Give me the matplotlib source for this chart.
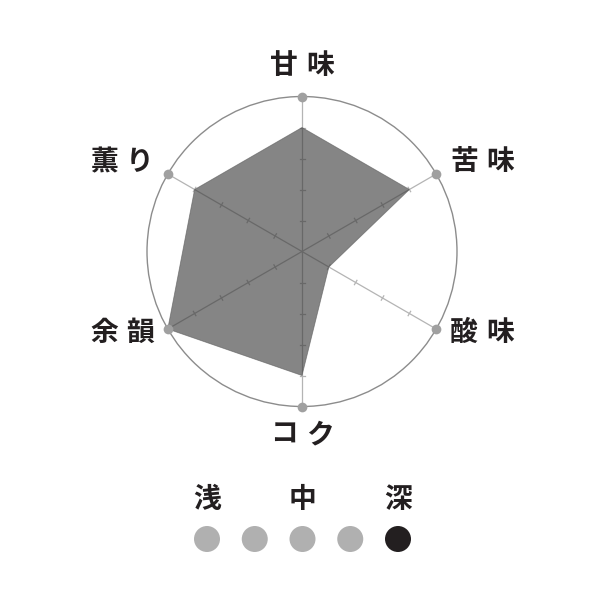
import numpy as np
import matplotlib.pyplot as plt
from matplotlib.patches import Circle, Polygon

plt.rcParams['font.family'] = ['Noto Sans CJK JP', 'DejaVu Sans']

# データ
labels = ['甘味', '苦味', '酸味', 'コク', '余韻', '薫り']
values = [4, 4, 1, 4, 5, 4]
max_value = 5
roast_labels = ['浅', '中', '深']
roast_level = 5  # 5段階中

# レイアウト（ピクセル座標）
cx, cy, R = 302, 251.5, 155
# ラベル位置（中心からのずれ）
label_dx = [0, 180, 180, 0, -180, -180]
label_dy = [-186, -89, 81.5, 183.5, 81.5, -89]

fig = plt.figure(figsize=(6.01, 6.01), dpi=100)
ax = fig.add_axes([0, 0, 1, 1])
ax.set_xlim(0, 601)
ax.set_ylim(601, 0)
ax.set_aspect('equal')
ax.axis('off')

n = len(labels)
angles = np.pi / 2 - np.arange(n) * 2 * np.pi / n
ux, uy = np.cos(angles), -np.sin(angles)

# 外円
ax.add_patch(Circle((cx, cy), R, fill=False, ec='#8c8c8c', lw=1.0, zorder=1))

# 軸と目盛り
for i in range(n):
    ax.plot([cx, cx + R * ux[i]], [cy, cy + R * uy[i]], color='#b4b4b4', lw=0.9, zorder=2)
    px, py = -uy[i], ux[i]
    for k in range(1, max_value):
        r = R * k / max_value
        x0, y0 = cx + r * ux[i], cy + r * uy[i]
        ax.plot([x0 - 2.5 * px, x0 + 2.5 * px], [y0 - 2.5 * py, y0 + 2.5 * py],
                color='#b4b4b4', lw=0.9, zorder=2)
    ax.plot(cx + R * ux[i], cy + R * uy[i], 'o', color='#a0a0a0', ms=7, mec='none', zorder=4)

# 値のポリゴン
vals = np.array(values) / max_value * R
pts = np.column_stack([cx + vals * ux, cy + vals * uy])
ax.add_patch(Polygon(pts, closed=True, fc='#3a3a3a', ec='#5a5a5a', lw=0.6, alpha=0.62, zorder=3))

# ラベル（文字間隔あり）
def spaced_text(x, y, s, size, gap):
    w = size * 1.39
    total = len(s) * w + (len(s) - 1) * gap
    start = x - total / 2 + w / 2
    for j, ch in enumerate(s):
        ax.text(start + j * (w + gap), y, ch, fontsize=size, fontweight='bold',
                color='#231f20', ha='center', va='center')

for i, lab in enumerate(labels):
    spaced_text(cx + label_dx[i], cy + label_dy[i], lab, 20, 8)

# 焙煎度
dot_x = np.linspace(207, 398, max_value)
for j, x in enumerate(dot_x):
    c = '#231f20' if j + 1 == roast_level else '#b0b0b0'
    ax.add_patch(Circle((x, 539), 13, color=c, ec='none'))
for x, t in zip(dot_x[::2], roast_labels):
    ax.text(x, 500, t, fontsize=20, fontweight='bold', color='#231f20', ha='center', va='center')

fig.savefig('out.png', dpi=100, facecolor='white')
